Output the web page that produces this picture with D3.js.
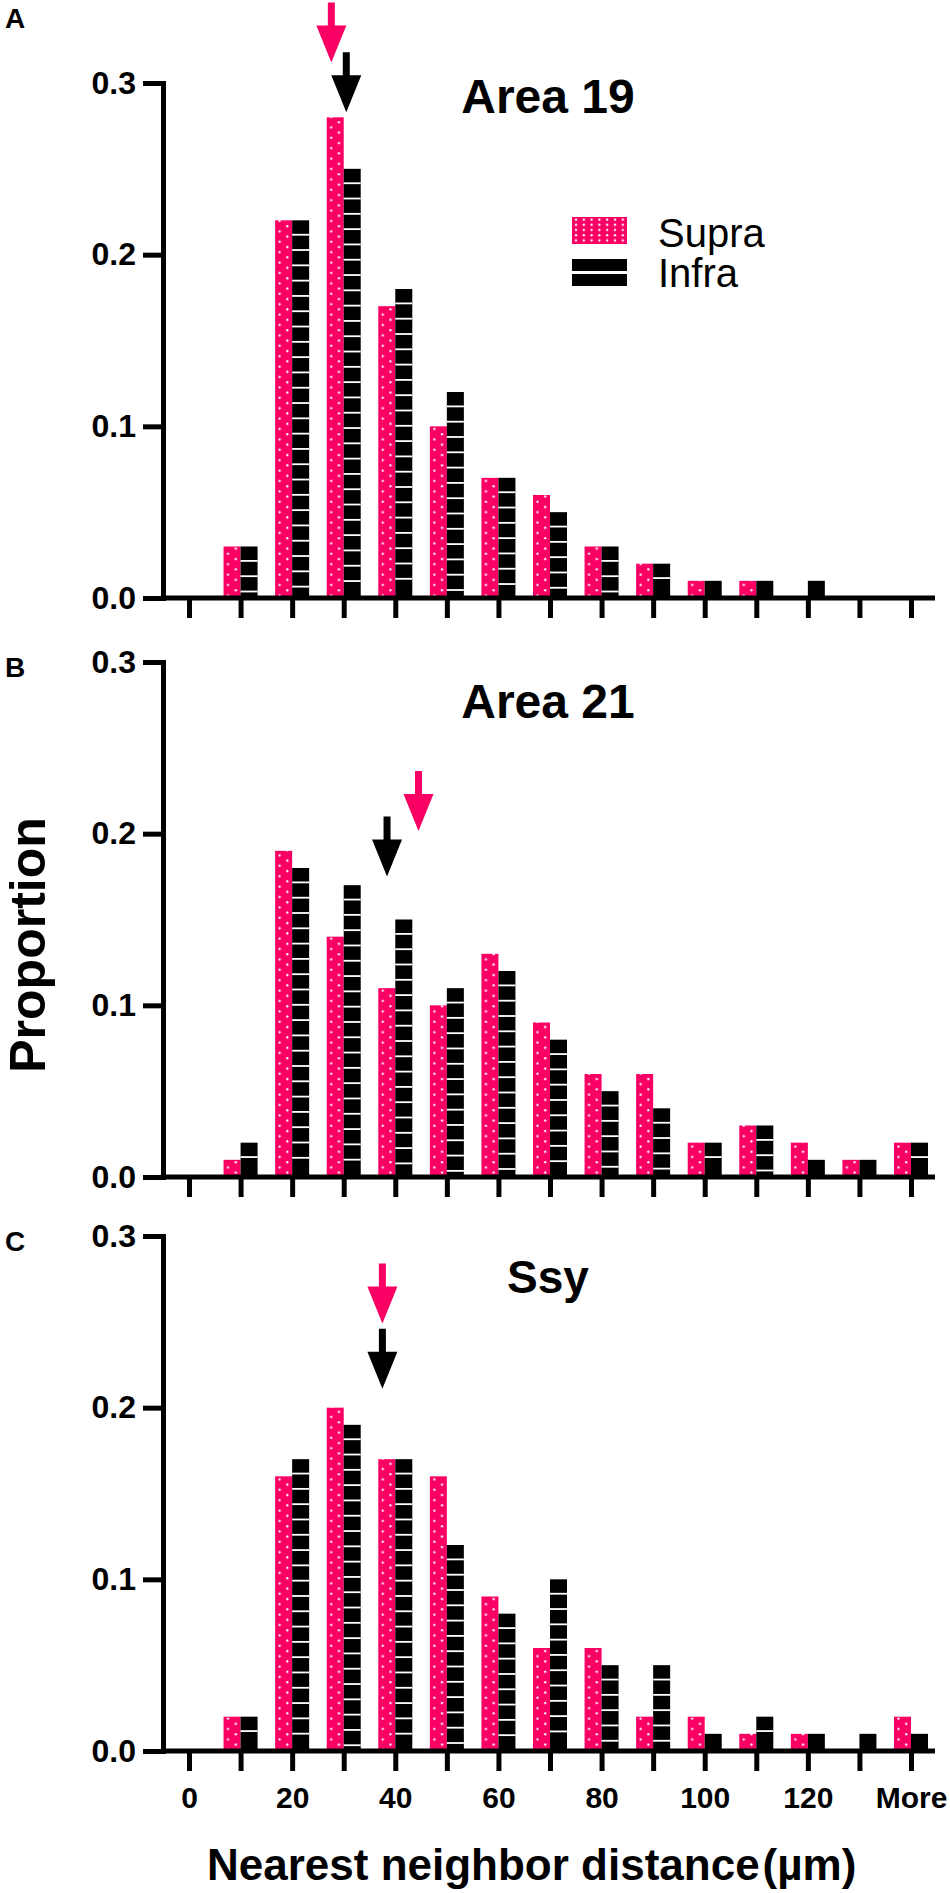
<!DOCTYPE html>
<html lang="en">
<head>
    <meta charset="UTF-8">
    <title>Nearest neighbor distance</title>
    <style>
        body { margin: 0; background: #fff; }
        text { font-family: "Liberation Sans", Arial, sans-serif; fill: #000; }
    </style>
</head>
<body>
    <script src="https://d3js.org/d3.v7.min.js"></script>
    <script type="text/javascript">
        // bins of the histogram (um), last one is "More"
        var bins = ["0", "10", "20", "30", "40", "50", "60", "70", "80", "90", "100", "110", "120", "130", "More"];
        var tickLabels = ["0", "20", "40", "60", "80", "100", "120", "More"];

        var panelLetters = ["A", "B", "C"];
        var panelTitles = ["Area 19", "Area 21", "Ssy"];
        var seriesNames = ["Supra", "Infra"];

        // proportions
        var supraA = [0, 0.03, 0.22, 0.28, 0.17, 0.10, 0.07, 0.06, 0.03, 0.02, 0.01, 0.01, 0, 0, 0];
        var infraA = [0, 0.03, 0.22, 0.25, 0.18, 0.12, 0.07, 0.05, 0.03, 0.02, 0.01, 0.01, 0.01, 0, 0];
        var supraB = [0, 0.01, 0.19, 0.14, 0.11, 0.10, 0.13, 0.09, 0.06, 0.06, 0.02, 0.03, 0.02, 0.01, 0.02];
        var infraB = [0, 0.02, 0.18, 0.17, 0.15, 0.11, 0.12, 0.08, 0.05, 0.04, 0.02, 0.03, 0.01, 0.01, 0.02];
        var supraC = [0, 0.02, 0.16, 0.20, 0.17, 0.16, 0.09, 0.06, 0.06, 0.02, 0.02, 0.01, 0.01, 0, 0.02];
        var infraC = [0, 0.02, 0.17, 0.19, 0.17, 0.12, 0.08, 0.10, 0.05, 0.05, 0.01, 0.02, 0.01, 0.01, 0.01];

        // mean distance arrows (um) and the proportion level of their tips
        var meanSupra = [27.6, 44.5, 37.5];
        var meanInfra = [30.5, 38.4, 37.5];
        var tipSupra = [0.312, 0.2015, 0.249];
        var tipInfra = [0.283, 0.175, 0.211];

        var supra = [supraA, supraB, supraC];
        var infra = [infraA, infraB, infraC];

        var width = 950, height = 1893;
        var pink = "#fa0064";
        var axisLeftX = 163, axisRightX = 935;
        var baselines = [598, 1177, 1751];
        var plotH = 515;
        var barW = 17;

        var svg = d3.select("body").append("svg")
            .attr("width", width)
            .attr("height", height);

        var x = d3.scalePoint().domain(bins).range([189, 911]);
        var xLin = d3.scaleLinear().domain([0, 140]).range([189, 911]);
        var step = x.step();

        // pink fill with white dots, tiled once per bin so the dots sit inside the bars
        var defs = svg.append("defs");
        var pat = defs.append("pattern")
            .attr("id", "dots")
            .attr("patternUnits", "userSpaceOnUse")
            .attr("x", x(bins[0]) - barW).attr("y", 0)
            .attr("width", step).attr("height", 10.4);
        pat.append("rect").attr("width", step).attr("height", 10.4).attr("fill", pink);
        pat.append("circle").attr("cx", 4.5).attr("cy", 2.6).attr("r", 1.15).attr("fill", "#fff");
        pat.append("circle").attr("cx", 12.2).attr("cy", 7.8).attr("r", 1.15).attr("fill", "#fff");

        var patL = defs.append("pattern")
            .attr("id", "dotsLegend")
            .attr("patternUnits", "userSpaceOnUse")
            .attr("x", 572).attr("y", 217)
            .attr("width", 7.8).attr("height", 10.4);
        patL.append("rect").attr("width", 7.8).attr("height", 10.4).attr("fill", pink);
        patL.append("circle").attr("cx", 4).attr("cy", 2.6).attr("r", 1.15).attr("fill", "#fff");
        patL.append("circle").attr("cx", 4).attr("cy", 7.8).attr("r", 1.15).attr("fill", "#fff");

        function arrowPath(cx, tip) {
            var len = 60, head = 37, hw = 15, sw = 3.5;
            return "M" + (cx - sw) + "," + (tip - len) + "H" + (cx + sw) + "V" + (tip - head) +
                "H" + (cx + hw) + "L" + cx + "," + tip + "L" + (cx - hw) + "," + (tip - head) +
                "H" + (cx - sw) + "Z";
        }

        panelLetters.forEach(function(letter, p) {
            var base = baselines[p];
            var y = d3.scaleLinear().domain([0, 0.3]).range([base, base - plotH]);
            var g = svg.append("g");

            // supra bars (left of tick)
            g.selectAll("rect.supra")
                .data(supra[p])
                .enter().append("rect")
                .attr("class", "supra")
                .attr("x", function(d, i) { return x(bins[i]) - barW; })
                .attr("y", function(d) { return y(d); })
                .attr("width", barW)
                .attr("height", function(d) { return y(0) - y(d); })
                .attr("fill", "url(#dots)");

            // infra bars (right of tick), black blocks separated by thin white lines
            infra[p].forEach(function(d, i) {
                if (d <= 0) return;
                var x0 = x(bins[i]);
                g.append("rect")
                    .attr("x", x0).attr("y", y(d))
                    .attr("width", barW).attr("height", y(0) - y(d))
                    .attr("fill", "#000");
                d3.range(y(d) + 15.3, y(0) - 4, 15.3).forEach(function(ly) {
                    g.append("rect")
                        .attr("x", x0).attr("y", ly - 1.8)
                        .attr("width", barW).attr("height", 1.8)
                        .attr("fill", "#fff");
                });
            });

            // y axis
            var yAxis = d3.axisLeft(y)
                .tickValues([0, 0.1, 0.2, 0.3])
                .tickFormat(d3.format(".1f"))
                .tickSize(20)
                .tickSizeOuter(0)
                .tickPadding(7);
            var ya = g.append("g")
                .attr("transform", "translate(" + axisLeftX + ",0)")
                .call(yAxis);
            ya.select(".domain").attr("stroke-width", 5).attr("stroke-linecap", "square");
            ya.selectAll(".tick line").attr("stroke-width", 5);
            ya.selectAll(".tick text")
                .style("font-size", "32px").style("font-weight", "bold")
                .style("font-family", "'Liberation Sans', Arial, sans-serif");

            // x axis line plus ticks
            g.append("line")
                .attr("x1", axisLeftX).attr("x2", axisRightX)
                .attr("y1", base).attr("y2", base)
                .attr("stroke", "#000").attr("stroke-width", 5);
            var xAxis = d3.axisBottom(x)
                .tickSize(20)
                .tickSizeOuter(0)
                .tickPadding(16)
                .tickFormat(function(d) {
                    return (p === 2 && tickLabels.indexOf(d) >= 0) ? d : "";
                });
            var xa = g.append("g")
                .attr("transform", "translate(0," + base + ")")
                .call(xAxis);
            xa.select(".domain").remove();
            xa.selectAll(".tick line").attr("stroke-width", 5);
            xa.selectAll(".tick text")
                .style("font-size", "30px").style("font-weight", "bold")
                .style("font-family", "'Liberation Sans', Arial, sans-serif");

            // panel title
            var titleY = [113, 718, 1293];
            g.append("text")
                .attr("x", 548).attr("y", titleY[p])
                .attr("text-anchor", "middle")
                .style("font-size", p === 2 ? "46px" : "48px")
                .style("font-weight", "bold")
                .text(panelTitles[p]);

            // panel letter
            var letterY = [28, 677, 1251];
            g.append("text")
                .attr("x", 5).attr("y", letterY[p])
                .style("font-size", "28px").style("font-weight", "bold")
                .text(letter);

            // mean arrows
            g.append("path")
                .attr("d", arrowPath(xLin(meanSupra[p]), y(tipSupra[p])))
                .attr("fill", pink);
            g.append("path")
                .attr("d", arrowPath(xLin(meanInfra[p]), y(tipInfra[p])))
                .attr("fill", "#000");
        });

        // legend (panel A)
        var lg = svg.append("g");
        lg.append("rect").attr("x", 572).attr("y", 217).attr("width", 55).attr("height", 27)
            .attr("fill", "url(#dotsLegend)");
        lg.append("rect").attr("x", 572).attr("y", 259).attr("width", 55).attr("height", 12).attr("fill", "#000");
        lg.append("rect").attr("x", 572).attr("y", 274).attr("width", 55).attr("height", 12).attr("fill", "#000");
        lg.selectAll("text.leg")
            .data(seriesNames)
            .enter().append("text")
            .attr("class", "leg")
            .attr("x", 658)
            .attr("y", function(d, i) { return [247, 287][i]; })
            .style("font-size", "40px")
            .text(function(d) { return d; });

        // axis titles
        svg.append("text")
            .attr("transform", "translate(45,945) rotate(-90)")
            .attr("text-anchor", "middle")
            .style("font-size", "50px").style("font-weight", "bold")
            .text("Proportion");

        var xt = svg.append("text")
            .attr("x", 207).attr("y", 1880)
            .style("font-size", "44px").style("font-weight", "bold");
        xt.append("tspan").text("Nearest neighbor distance");
        xt.append("tspan").attr("dx", 3).text("(\u00b5m)");
    </script>
</body>
</html>
